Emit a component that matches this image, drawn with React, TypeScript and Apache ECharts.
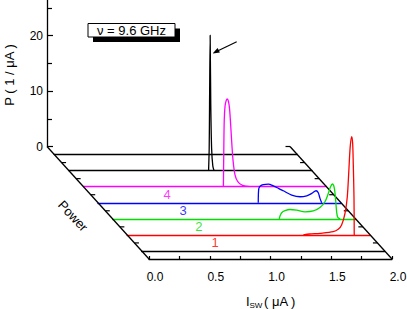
import React, { useEffect, useRef } from 'react';
import * as echarts from 'echarts';

// ---------------- data (Isw in μA, P in 1/μA) ----------------
// back black spike (lowest power, plane 2 from the back)
const spikeCurve: number[][] = [
  [1.150, 0], [1.155, 4], [1.158, 12], [1.163, 24.4], [1.168, 12], [1.175, 4], [1.185, 0.8], [1.195, 0],
];
// power level 4 (magenta)
const power4Curve: number[][] = [
  [1.152, 0], [1.155, 6], [1.159, 12], [1.166, 14.6], [1.175, 15.5], [1.184, 15.8], [1.193, 15.4],
  [1.202, 14.2], [1.212, 11.1], [1.222, 7.5], [1.232, 4.6], [1.248, 2.1], [1.272, 0.85], [1.31, 0.22], [1.37, 0],
];
// power level 3 (blue)
const power3Curve: number[][] = [
  [1.319, 0], [1.320, 1.5], [1.324, 2.6], [1.336, 3.0], [1.360, 3.25], [1.402, 3.35], [1.443, 3.04],
  [1.485, 2.6], [1.525, 2.16], [1.594, 1.39], [1.663, 1.08], [1.718, 1.26], [1.759, 1.69], [1.795, 2.16],
  [1.813, 1.8], [1.827, 0.79], [1.841, 0],
];
// power level 2 (green)
const power2Curve: number[][] = [
  [1.372, 0], [1.378, 0.5], [1.392, 1.1], [1.419, 1.46], [1.460, 1.68], [1.515, 1.55], [1.584, 1.26],
  [1.652, 1.41], [1.707, 2.04], [1.748, 3.08], [1.776, 4.59], [1.793, 5.73], [1.810, 6.27], [1.825, 5.55],
  [1.836, 3.39], [1.844, 1.28], [1.853, 0.27], [1.872, 0],
];
// power level 1 (red)
const power1Curve: number[][] = [
  [1.45, 0], [1.502, 0.16], [1.587, 0.29], [1.696, 0.58], [1.737, 1.01], [1.765, 1.78], [1.793, 3.89],
  [1.812, 6.88], [1.825, 11.7], [1.836, 15.9], [1.848, 17.7], [1.856, 16.5], [1.861, 12.9], [1.867, 6.86],
  [1.869, 0],
];

// planes from back to front
const planeCurves: (number[][] | null)[] = [null, spikeCurve, power4Curve, power3Curve, power2Curve, power1Curve, null];
const planeColors = ['#000000', '#000000', '#ff00ff', '#0000ff', '#00e000', '#ff0000', '#000000'];
const planeNames = ['', '', '4', '3', '2', '1', ''];

const xTickLabels = ['0.0', '0.5', '1.0', '1.5', '2.0'];
const yTickValues = [0, 10, 20];

// ---------------- layout ----------------
const W = 407;
const H = 309;
const BACK_X = 47;
const BACK_Y = 146.5;
const FRONT_X = 149;
const FRONT_Y = 259;
const PX_PER_I = 121.5;
const PX_PER_P = 5.55;
const X_MAX = 2;
const P_MAX = 30;
const NPL = 7;
const PLANE_W = X_MAX * PX_PER_I;
const DEPTH = FRONT_Y - BACK_Y;
const SLOPE = (FRONT_X - BACK_X) / DEPTH;
const LABEL_X = [0, 0, 0.688, 0.70, 0.711, 0.723, 0];
const FONT = 'Liberation Sans, Arial, Helvetica, sans-serif';

function planeY(k: number) {
  return BACK_Y + (k + 0.5) * DEPTH / NPL;
}
function planeX(y: number) {
  return BACK_X + (y - BACK_Y) * SLOPE;
}

export default function App() {
  const ref = useRef<HTMLDivElement>(null);
  useEffect(() => {
    if (!ref.current) return;
    const chart = echarts.init(ref.current, undefined, { renderer: 'svg', width: W, height: H });

    const grids: any[] = [];
    const xAxes: any[] = [];
    const yAxes: any[] = [];
    const series: any[] = [];

    // back plane grid (P axis)
    grids.push({ left: BACK_X, top: BACK_Y - P_MAX * PX_PER_P, width: PLANE_W, height: P_MAX * PX_PER_P, outerBoundsMode: 'none' });
    xAxes.push({ gridIndex: 0, type: 'value', min: 0, max: X_MAX, show: false });
    yAxes.push({
      gridIndex: 0, type: 'value', min: 0, max: P_MAX, interval: 10,
      axisLine: { show: true, lineStyle: { color: '#000', width: 1.3 } },
      axisTick: { show: true, inside: true, length: 6, lineStyle: { color: '#000', width: 1.2 } },
      minorTick: { show: true, splitNumber: 2, length: 5, lineStyle: { color: '#000', width: 1.2 } },
      splitLine: { show: false },
      axisLabel: {
        show: true, margin: 4, color: '#000', fontSize: 12, fontFamily: FONT,
        formatter: (v: number) => (yTickValues.indexOf(v) >= 0 ? String(v) : ''),
      },
    });

    // trace planes
    planeCurves.forEach((curve, k) => {
      const gi = grids.length;
      const by = planeY(k);
      grids.push({ left: planeX(by), top: by - P_MAX * PX_PER_P, width: PLANE_W, height: P_MAX * PX_PER_P, outerBoundsMode: 'none' });
      xAxes.push({
        gridIndex: gi, type: 'value', min: 0, max: X_MAX,
        axisLine: { show: true, lineStyle: { color: planeColors[k], width: 1.4 } },
        axisTick: { show: false }, axisLabel: { show: false }, splitLine: { show: false },
      });
      yAxes.push({ gridIndex: gi, type: 'value', min: 0, max: P_MAX, show: false });
      if (curve) {
        series.push({
          type: 'line', xAxisIndex: gi, yAxisIndex: gi, data: curve, symbol: 'none', showSymbol: false,
          smooth: 0.3, lineStyle: { color: planeColors[k], width: 1.3 }, z: 3, silent: true,
        });
      }
      if (planeNames[k]) {
        series.push({
          type: 'scatter', xAxisIndex: gi, yAxisIndex: gi, data: [[LABEL_X[k], 0]], symbolSize: 0, clip: false,
          label: {
            show: true, position: 'bottom', distance: 1, formatter: planeNames[k], color: planeColors[k],
            fontSize: 13, fontFamily: FONT,
          },
          silent: true, z: 4,
        });
      }
    });

    // front plane grid (Isw axis)
    const fi = grids.length;
    grids.push({ left: FRONT_X, top: FRONT_Y - 100, width: PLANE_W, height: 100, outerBoundsMode: 'none' });
    xAxes.push({
      gridIndex: fi, type: 'value', min: 0, max: X_MAX, interval: 0.5,
      axisLine: { show: true, lineStyle: { color: '#000', width: 1.4 } },
      axisTick: { show: true, inside: true, length: 3, lineStyle: { color: '#000', width: 1.2 } },
      minorTick: { show: true, splitNumber: 2, length: 3, lineStyle: { color: '#000', width: 1.2 } },
      splitLine: { show: false },
      axisLabel: {
        show: true, margin: 12, color: '#000', fontSize: 12, fontFamily: FONT, padding: [0, 0, 0, 12],
        formatter: (v: number) => xTickLabels[Math.round(v / 0.5)] ?? '',
      },
    });
    yAxes.push({ gridIndex: fi, type: 'value', min: 0, max: 10, show: false });

    // frame: diagonals and their ticks
    const graphic: any[] = [];
    const frameStyle = { stroke: '#000', lineWidth: 1.3 };
    graphic.push({ type: 'line', z: 1, shape: { x1: BACK_X, y1: BACK_Y, x2: FRONT_X, y2: FRONT_Y }, style: frameStyle });
    graphic.push({ type: 'line', z: 1, shape: { x1: BACK_X + PLANE_W, y1: BACK_Y, x2: FRONT_X + PLANE_W, y2: FRONT_Y }, style: frameStyle });
    for (let k = 0; k < NPL; k++) {
      const ty = BACK_Y + k * DEPTH / NPL;
      const tx = planeX(ty);
      if (k > 0) graphic.push({ type: 'line', z: 1, shape: { x1: tx, y1: ty, x2: tx + 4.5, y2: ty }, style: { stroke: '#000', lineWidth: 1.2 } });
      graphic.push({ type: 'line', z: 1, shape: { x1: tx + PLANE_W, y1: ty, x2: tx + PLANE_W - 4.5, y2: ty }, style: { stroke: '#000', lineWidth: 1.2 } });
    }

    // annotation box
    graphic.push({ type: 'rect', z: 10, shape: { x: 93, y: 28.5, width: 87, height: 13.5 }, style: { fill: '#000' } });
    graphic.push({ type: 'rect', z: 11, shape: { x: 88, y: 23.5, width: 87, height: 13.5 }, style: { fill: '#fff', stroke: '#000', lineWidth: 1 } });
    graphic.push({
      type: 'text', z: 12, x: 131.5, y: 30.5,
      style: { text: 'ν = 9.6 GHz', fontSize: 13, fontFamily: FONT, fill: '#000', align: 'center', verticalAlign: 'middle' },
    });

    // arrow to the spike
    graphic.push({ type: 'line', z: 10, shape: { x1: 236.7, y1: 41.7, x2: 217, y2: 51.3 }, style: { stroke: '#000', lineWidth: 1.2 } });
    graphic.push({ type: 'polygon', z: 10, shape: { points: [[212.6, 53.4], [219.9, 52.6], [217.6, 47.9]] }, style: { fill: '#000' } });

    // axis titles
    graphic.push({
      type: 'text', z: 10, x: 9, y: 75, rotation: Math.PI / 2,
      style: { text: 'P ( 1 / μA )', fontSize: 13, fontFamily: FONT, fill: '#000', align: 'center', verticalAlign: 'middle' },
    });
    graphic.push({
      type: 'text', z: 10, x: 73, y: 216, rotation: -0.82,
      style: { text: 'Power', fontSize: 13, fontFamily: FONT, fill: '#000', align: 'center', verticalAlign: 'middle' },
    });
    graphic.push({
      type: 'text', z: 10, x: 246, y: 301,
      style: { text: 'I', fontSize: 13, fontFamily: FONT, fill: '#000', align: 'left', verticalAlign: 'middle' },
    });
    graphic.push({
      type: 'text', z: 10, x: 249.5, y: 305,
      style: { text: 'SW', fontSize: 8, fontFamily: FONT, fill: '#000', align: 'left', verticalAlign: 'middle' },
    });
    graphic.push({
      type: 'text', z: 10, x: 264, y: 301,
      style: { text: '( μA )', fontSize: 13, fontFamily: FONT, fill: '#000', align: 'left', verticalAlign: 'middle' },
    });

    chart.setOption({
      animation: false,
      backgroundColor: '#fff',
      textStyle: { fontFamily: FONT },
      grid: grids,
      xAxis: xAxes,
      yAxis: yAxes,
      series,
      graphic: { elements: graphic },
    });
    return () => chart.dispose();
  }, []);
  return <div ref={ref} style={{ position: 'absolute', left: 0, top: 0, width: W, height: H }} />;
}
